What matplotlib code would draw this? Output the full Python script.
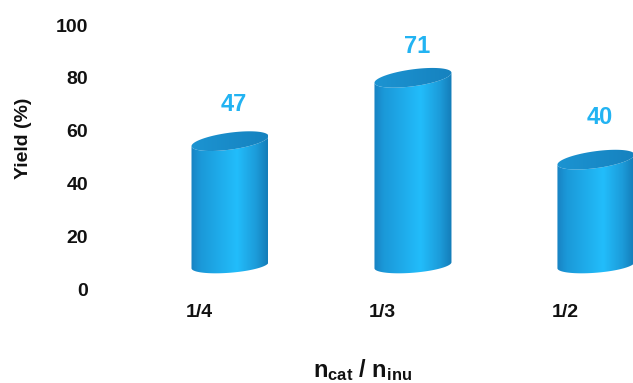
import numpy as np
import matplotlib
matplotlib.use('Agg')
import matplotlib.pyplot as plt
from matplotlib.patches import Polygon
from matplotlib.colors import LinearSegmentedColormap

# ---- data ----
categories = ['1/4', '1/3', '1/2']
yields = [47, 71, 40]
value_labels = ['47', '71', '40']
yticks = [0, 20, 40, 60, 80, 100]

# ---- style ----
label_gap_px = [37, 31, 42]  # vertical gap of value labels above cylinder tops

plt.rcParams['font.family'] = ['Liberation Sans', 'DejaVu Sans']
plt.rcParams['mathtext.fontset'] = 'custom'
plt.rcParams['mathtext.rm'] = 'Liberation Sans'
plt.rcParams['mathtext.bf'] = 'Liberation Sans:bold'
plt.rcParams['mathtext.it'] = 'Liberation Sans:italic'

W, H = 633, 383
fig = plt.figure(figsize=(W / 100, H / 100), dpi=100)
L, R, B, T = 98, 633, 94, 358  # axes box in pixels
ax = fig.add_axes([L / W, B / H, (R - L) / W, (T - B) / H])
xlim = (-0.552, 2.372)
ylim = (0, 100)
sx = (xlim[1] - xlim[0]) / (R - L)  # data units per pixel
sy = (ylim[1] - ylim[0]) / (T - B)

# cylinder style
base = 9
dx = 31 * sx
hw = 38.5 * sx
b_top, b_bot = 8.5 * sy, 7.5 * sy
sh_top, sh_bot = 5 * sy, 3 * sy

body_cmap = LinearSegmentedColormap.from_list('body', [
    (0.0, '#1882c2'), (0.12, '#1b98d8'), (0.6, '#22bdfb'),
    (0.85, '#1c9bd9'), (1.0, '#147cb8')])
top_cmap = LinearSegmentedColormap.from_list('top', [
    (0.0, '#1c94d2'), (1.0, '#1682bf')])
grad = np.linspace(0, 1, 256).reshape(1, -1)


def ell(cx, cy, b, sh, t):
    return np.column_stack([cx + hw * np.cos(t), cy + b * np.sin(t) + sh * np.cos(t)])


for i, v in enumerate(yields):
    cx = i + dx
    y0 = base
    y1 = base + v
    t_bot = np.linspace(np.pi, 2 * np.pi, 80)
    t_topf = np.linspace(2 * np.pi, np.pi, 80)
    pts = np.vstack([
        [[cx - hw, y1 - sh_top]],
        ell(cx, y0, b_bot, sh_bot, t_bot),
        [[cx + hw, y1 + sh_top]],
        ell(cx, y1, b_top, sh_top, t_topf),
    ])
    body = Polygon(pts, closed=True, transform=ax.transData, facecolor='none', edgecolor='none')
    ax.add_patch(body)
    im = ax.imshow(grad, cmap=body_cmap, extent=[cx - hw, cx + hw, y0 - 14 * sy, y1 + 14 * sy],
                   aspect='auto', interpolation='bicubic', zorder=2)
    im.set_clip_path(body)

    top = Polygon(ell(cx, y1, b_top, sh_top, np.linspace(0, 2 * np.pi, 160)), closed=True,
                  transform=ax.transData, facecolor='none', edgecolor='none')
    ax.add_patch(top)
    im2 = ax.imshow(grad, cmap=top_cmap, extent=[cx - hw, cx + hw, y1 - 14 * sy, y1 + 14 * sy],
                    aspect='auto', interpolation='bicubic', zorder=3)
    im2.set_clip_path(top)

    ax.text(cx + 4 * sx, y1 + label_gap_px[i] * sy, value_labels[i], ha='center', va='center',
            fontsize=17, fontweight='bold', color='#22b3f2', zorder=4)

ax.set_xlim(*xlim)
ax.set_ylim(*ylim)
ax.set_xticks(range(len(categories)))
ax.set_xticklabels(categories)
ax.set_yticks(yticks)
ax.set_yticklabels([str(t) for t in yticks])
for lab in ax.get_xticklabels() + ax.get_yticklabels():
    lab.set_fontsize(14)
    lab.set_fontweight('bold')
    lab.set_color('#111111')
ax.tick_params(axis='x', length=0, pad=11)
ax.tick_params(axis='y', length=0, pad=7)
for s in ax.spines.values():
    s.set_visible(False)
ax.patch.set_visible(False)

fig.text(23 / W, (H - 138) / H, 'Yield (%)', rotation=90, ha='center', va='center',
         fontsize=14, fontweight='bold', color='#111111')
fig.text(363 / W, (H - 377) / H, r'$\mathbf{n_{cat}\ /\ n_{inu}}$', ha='center', va='baseline',
         fontsize=17, color='#111111')

fig.savefig('out.png', dpi=100)
